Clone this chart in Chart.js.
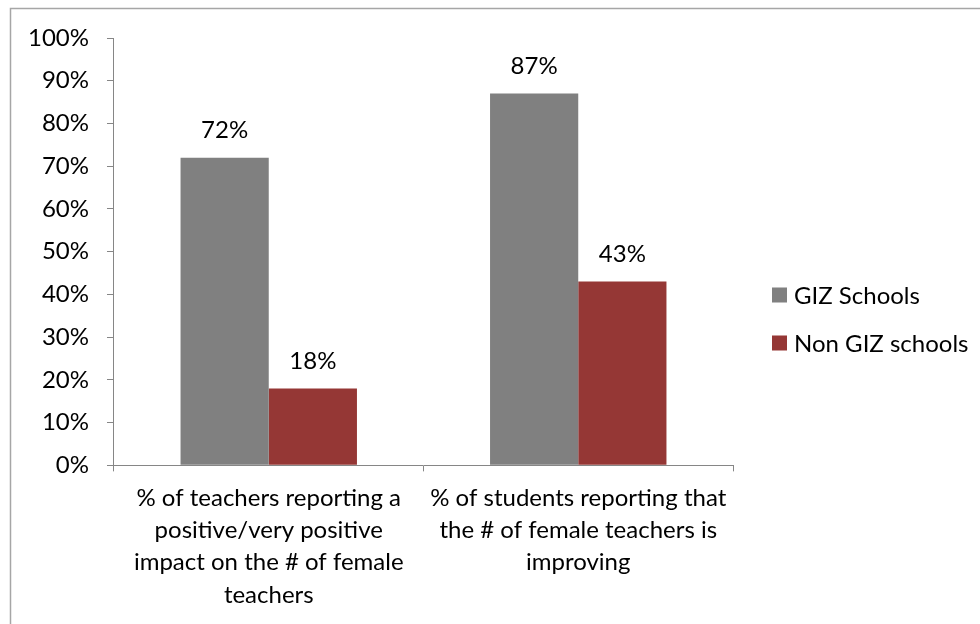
<!DOCTYPE html>
<html>
<head>
<meta charset="utf-8">
<script src="https://cdn.jsdelivr.net/npm/chart.js@4/dist/chart.umd.min.js"></script>
<style>
  html, body { margin: 0; padding: 0; background: #fff; }
  #wrap { width: 980px; height: 624px; position: relative; }
</style>
</head>
<body>
<div id="wrap"><canvas id="chart"></canvas></div>
<script>
var categories = [
  ['% of teachers reporting a', 'positive/very positive', 'impact on the # of female', 'teachers'],
  ['% of students reporting that', 'the # of female teachers is', 'improving']
];
var seriesNames = ['GIZ Schools', 'Non GIZ schools'];
var gizValues = [72, 87];
var nonGizValues = [18, 43];
var yTicks = [0, 10, 20, 30, 40, 50, 60, 70, 80, 90, 100];

var FONT = 'Lato, "Open Sans", sans-serif';
var FONT_SIZE = 24;
var axisColor = '#868686';

// light frame round the chart, like the office chart border
var framePlugin = {
  id: 'frame',
  beforeDraw: function (chart) {
    var ctx = chart.ctx;
    ctx.save();
    ctx.strokeStyle = '#a6a6a6';
    ctx.lineWidth = 1.5;
    ctx.beginPath();
    ctx.moveTo(10.5, chart.height + 5);
    ctx.lineTo(10.5, 8.5);
    ctx.lineTo(chart.width + 5, 8.5);
    ctx.stroke();
    ctx.restore();
  }
};

// value labels above each bar
var valueLabels = {
  id: 'valueLabels',
  afterDatasetsDraw: function (chart) {
    var ctx = chart.ctx;
    ctx.save();
    ctx.font = FONT_SIZE + 'px ' + FONT;
    ctx.fillStyle = '#000';
    ctx.textAlign = 'center';
    ctx.textBaseline = 'middle';
    chart.data.datasets.forEach(function (ds, i) {
      chart.getDatasetMeta(i).data.forEach(function (bar, j) {
        ctx.fillText(ds.data[j] + '%', bar.x, bar.y - 27);
      });
    });
    ctx.restore();
  }
};

// legend on the right, square swatches, drawn from the datasets
var sideLegend = {
  id: 'sideLegend',
  afterDraw: function (chart) {
    var ctx = chart.ctx;
    var x = chart.chartArea.right + 39;
    var y = 295;
    ctx.save();
    ctx.font = FONT_SIZE + 'px ' + FONT;
    ctx.textBaseline = 'middle';
    ctx.textAlign = 'left';
    chart.data.datasets.forEach(function (ds) {
      ctx.fillStyle = ds.backgroundColor;
      ctx.fillRect(x, y - 7.5, 15, 15);
      ctx.fillStyle = '#000';
      ctx.fillText(ds.label, x + 22, y + 1);
      y += 48;
    });
    ctx.restore();
  }
};

new Chart(document.getElementById('chart'), {
  type: 'bar',
  data: {
    labels: categories,
    datasets: [{
      label: seriesNames[0],
      data: gizValues,
      backgroundColor: '#808080'
    }, {
      label: seriesNames[1],
      data: nonGizValues,
      backgroundColor: '#953735'
    }]
  },
  options: {
    responsive: true,
    maintainAspectRatio: false,
    animation: false,
    datasets: {
      bar: { categoryPercentage: 0.57, barPercentage: 1.0 }
    },
    layout: { padding: { left: 10, top: 38, right: 247, bottom: 2 } },
    plugins: {
      tooltip: { enabled: false },
      legend: { display: false }
    },
    scales: {
      x: {
        grid: { offset: true, drawOnChartArea: false, tickLength: 6, color: axisColor },
        border: { color: axisColor, width: 1 },
        ticks: {
          color: '#000',
          padding: 11,
          maxRotation: 0,
          autoSkip: false,
          font: { family: FONT, size: FONT_SIZE, lineHeight: 1.34 }
        }
      },
      y: {
        min: 0,
        max: 100,
        afterBuildTicks: function (scale) {
          scale.ticks = yTicks.map(function (v) { return { value: v }; });
        },
        grid: { drawOnChartArea: false, tickLength: 7, color: axisColor },
        border: { color: axisColor, width: 1 },
        ticks: {
          color: '#000',
          padding: 18,
          font: { family: FONT, size: FONT_SIZE },
          callback: function (v) { return v + '%'; }
        }
      }
    }
  },
  plugins: [framePlugin, valueLabels, sideLegend]
});
</script>
</body>
</html>
